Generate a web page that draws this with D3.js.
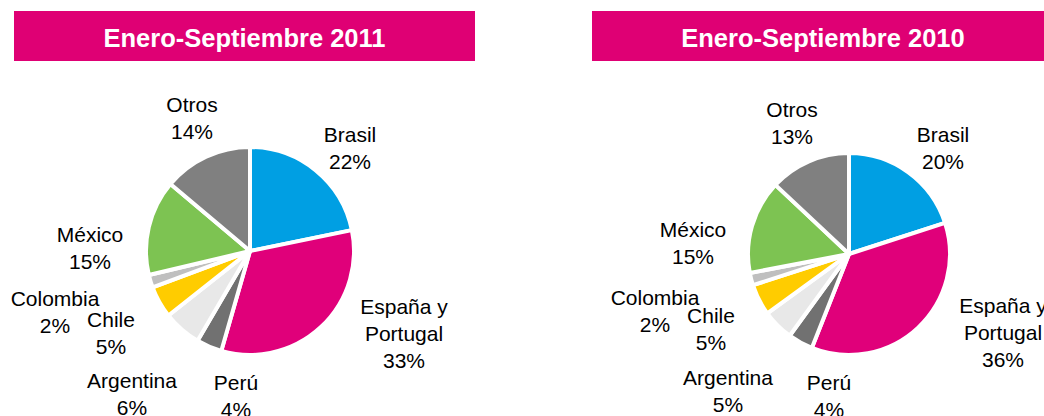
<!DOCTYPE html>
<html>
<head>
<meta charset="utf-8">
<script src="https://cdn.jsdelivr.net/npm/d3@7"></script>
<style>
  body { margin: 0; background: #fff; }
  svg { display: block; font-family: "Liberation Sans", Arial, sans-serif; }
</style>
</head>
<body>
<div id="container"></div>
<script>
// data
let categories = ["Brasil", "España y Portugal", "Perú", "Argentina", "Chile", "Colombia", "México", "Otros"];
let values2011 = [22, 33, 4, 6, 5, 2, 15, 14];
let values2010 = [20, 36, 4, 5, 5, 2, 15, 13];
let titles = ["Enero-Septiembre 2011", "Enero-Septiembre 2010"];

// label lines (category name may wrap)
let labelLines = [["Brasil"], ["España y", "Portugal"], ["Perú"], ["Argentina"], ["Chile"], ["Colombia"], ["México"], ["Otros"]];

let colors = ["#009FE3", "#E0007A", "#717171", "#E8E8E8", "#FFCC00", "#BFBFBF", "#7DC352", "#808080"];

let w = 1044;
let h = 416;

let viz = d3.select("#container")
  .append("svg")
    .attr("width", w)
    .attr("height", h)
;

// layout of each panel: pie centre, radius, title bar, label anchors (offset from centre)
let panels = [
  {
    values: values2011, title: titles[0],
    cx: 250, cy: 251, r: 104,
    barX: 14, barW: 461,
    labels: [[100, -109], [154, 63], [-14, 139], [-118, 137], [-139, 76], [-195, 55], [-160, -9], [-58, -139]]
  },
  {
    values: values2010, title: titles[1],
    cx: 849, cy: 254, r: 101,
    barX: 592, barW: 462,
    labels: [[94, -112], [154, 59], [-20, 136], [-121, 131], [-138, 69], [-194, 51], [-156, -17], [-57, -137]]
  }
];

let pie = d3.pie().sort(null).value(d => d);

panels.forEach(function(p){
  let g = viz.append("g");

  // title bar
  g.append("rect")
    .attr("x", p.barX)
    .attr("y", 11)
    .attr("width", p.barW)
    .attr("height", 50)
    .attr("fill", "#DF0074");
  g.append("text")
    .attr("x", p.barX + p.barW / 2)
    .attr("y", 47)
    .attr("text-anchor", "middle")
    .attr("font-size", 25.5)
    .attr("font-weight", "bold")
    .attr("fill", "#fff")
    .text(p.title);

  let arc = d3.arc().innerRadius(0).outerRadius(p.r);

  let pieGroup = g.append("g").attr("transform", "translate(" + p.cx + "," + p.cy + ")");
  pieGroup.selectAll(".slice")
    .data(pie(p.values))
    .enter()
    .append("path")
      .classed("slice", true)
      .attr("d", arc)
      .attr("fill", (d, i) => colors[i])
      .attr("stroke", "#fff")
      .attr("stroke-width", 4)
      .attr("stroke-linejoin", "round");

  // labels
  let labelGroup = pieGroup.selectAll(".label")
    .data(p.values)
    .enter()
    .append("text")
      .classed("label", true)
      .attr("text-anchor", "middle")
      .attr("font-size", 21)
      .attr("fill", "#000")
      .attr("transform", (d, i) => "translate(" + p.labels[i][0] + "," + p.labels[i][1] + ")");

  labelGroup.each(function(d, i){
    let t = d3.select(this);
    let lines = labelLines[i].concat([d + "%"]);
    lines.forEach(function(line, j){
      t.append("tspan").attr("x", 0).attr("y", j * 27).text(line);
    });
  });
});
</script>
</body>
</html>
